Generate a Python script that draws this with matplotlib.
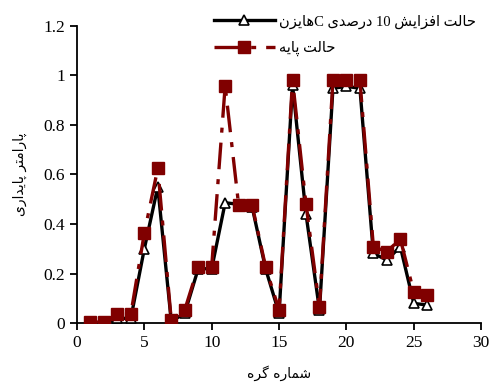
import matplotlib
matplotlib.use("Agg")
import matplotlib.pyplot as plt
from matplotlib.ticker import FuncFormatter, MultipleLocator

plt.rcParams['font.family'] = ['Liberation Serif', 'DejaVu Sans']

nodes = list(range(1, 27))
# base case (dark red squares)
base = [0.005, 0.005, 0.037, 0.037, 0.363, 0.625, 0.013, 0.054, 0.228, 0.228,
        0.957, 0.477, 0.477, 0.228, 0.054, 0.981, 0.48, 0.067, 0.981, 0.981,
        0.981, 0.309, 0.289, 0.34, 0.125, 0.114]
# 10 percent increase case (black, white triangles)
incr = [0.0, 0.0, 0.02, 0.02, 0.30, 0.55, 0.008, 0.04, 0.22, 0.22,
        0.486, 0.48, 0.47, 0.22, 0.04, 0.96, 0.44, 0.054, 0.948, 0.955,
        0.948, 0.282, 0.255, 0.309, 0.08, 0.074]

# persian text, pre-shaped in visual (left-to-right) order
lbl_incr = ("\uFEE5\uFEB0\uFEF3\uFE8E\uFEEB" + "C " + "\uFEEF\uFEAA\uFEBB\uFEAD\uFEA9" + " 10 "
            + "\uFEB6\uFEF3\uFE8D\uFEB0\uFED3\uFE8D" + " " + "\uFE96\uFEDF\uFE8E\uFEA3")
lbl_base = "\uFEEA\uFEF3\uFE8E\uFB58" + " " + "\uFE96\uFEDF\uFE8E\uFEA3"
xlab = "\uFEE9\uFEAE\uFB94" + " " + "\uFEE9\uFEAD\uFE8E\uFEE4\uFEB7"
ylab = ("\uFEEF\uFEAD\uFE8D\uFEAA\uFEF3\uFE8E\uFB58" + " "
        + "\uFEAE\uFE98\uFEE3\uFE8D\uFEAD\uFE8E\uFB58")

dark_red = '#800000'

fig = plt.figure(figsize=(4.9, 3.87), dpi=100)
ax = fig.add_axes([0.157, 0.1646, 0.825, 0.769])

ax.plot(nodes, incr, color='black', lw=2.4, marker='^', markersize=7.5,
        markerfacecolor='white', markeredgecolor='black', markeredgewidth=1.2,
        label=lbl_incr, zorder=3)
ax.plot(nodes, base, color=dark_red, lw=2.4, linestyle=(0, (8, 3, 1.5, 3)),
        marker='s', markersize=8, markerfacecolor=dark_red, markeredgecolor=dark_red,
        label=lbl_base, zorder=4)

ax.set_xlim(0, 30)
ax.set_ylim(0, 1.2)
ax.xaxis.set_major_locator(MultipleLocator(5))
ax.yaxis.set_major_locator(MultipleLocator(0.2))
ax.yaxis.set_major_formatter(FuncFormatter(lambda v, p: ('%.1f' % v).rstrip('0').rstrip('.')))

for s in ['top', 'right']:
    ax.spines[s].set_visible(False)
for s in ['left', 'bottom']:
    ax.spines[s].set_linewidth(1.3)
ax.tick_params(direction='out', length=5, width=1.3, labelsize=12.5)

ax.set_xlabel(xlab, fontsize=10, family='DejaVu Sans', labelpad=10)
ax.set_ylabel(ylab, fontsize=10, family='DejaVu Sans', labelpad=12)

leg = ax.legend(loc='upper right', bbox_to_anchor=(0.99, 0.985), bbox_transform=fig.transFigure,
                frameon=False, fontsize=10.5, handlelength=4.2, handletextpad=0.3,
                borderaxespad=0.2, labelspacing=0.85)
for t in leg.get_texts():
    t.set_family(['Liberation Serif', 'DejaVu Sans'])

fig.savefig('out.png', dpi=100)
